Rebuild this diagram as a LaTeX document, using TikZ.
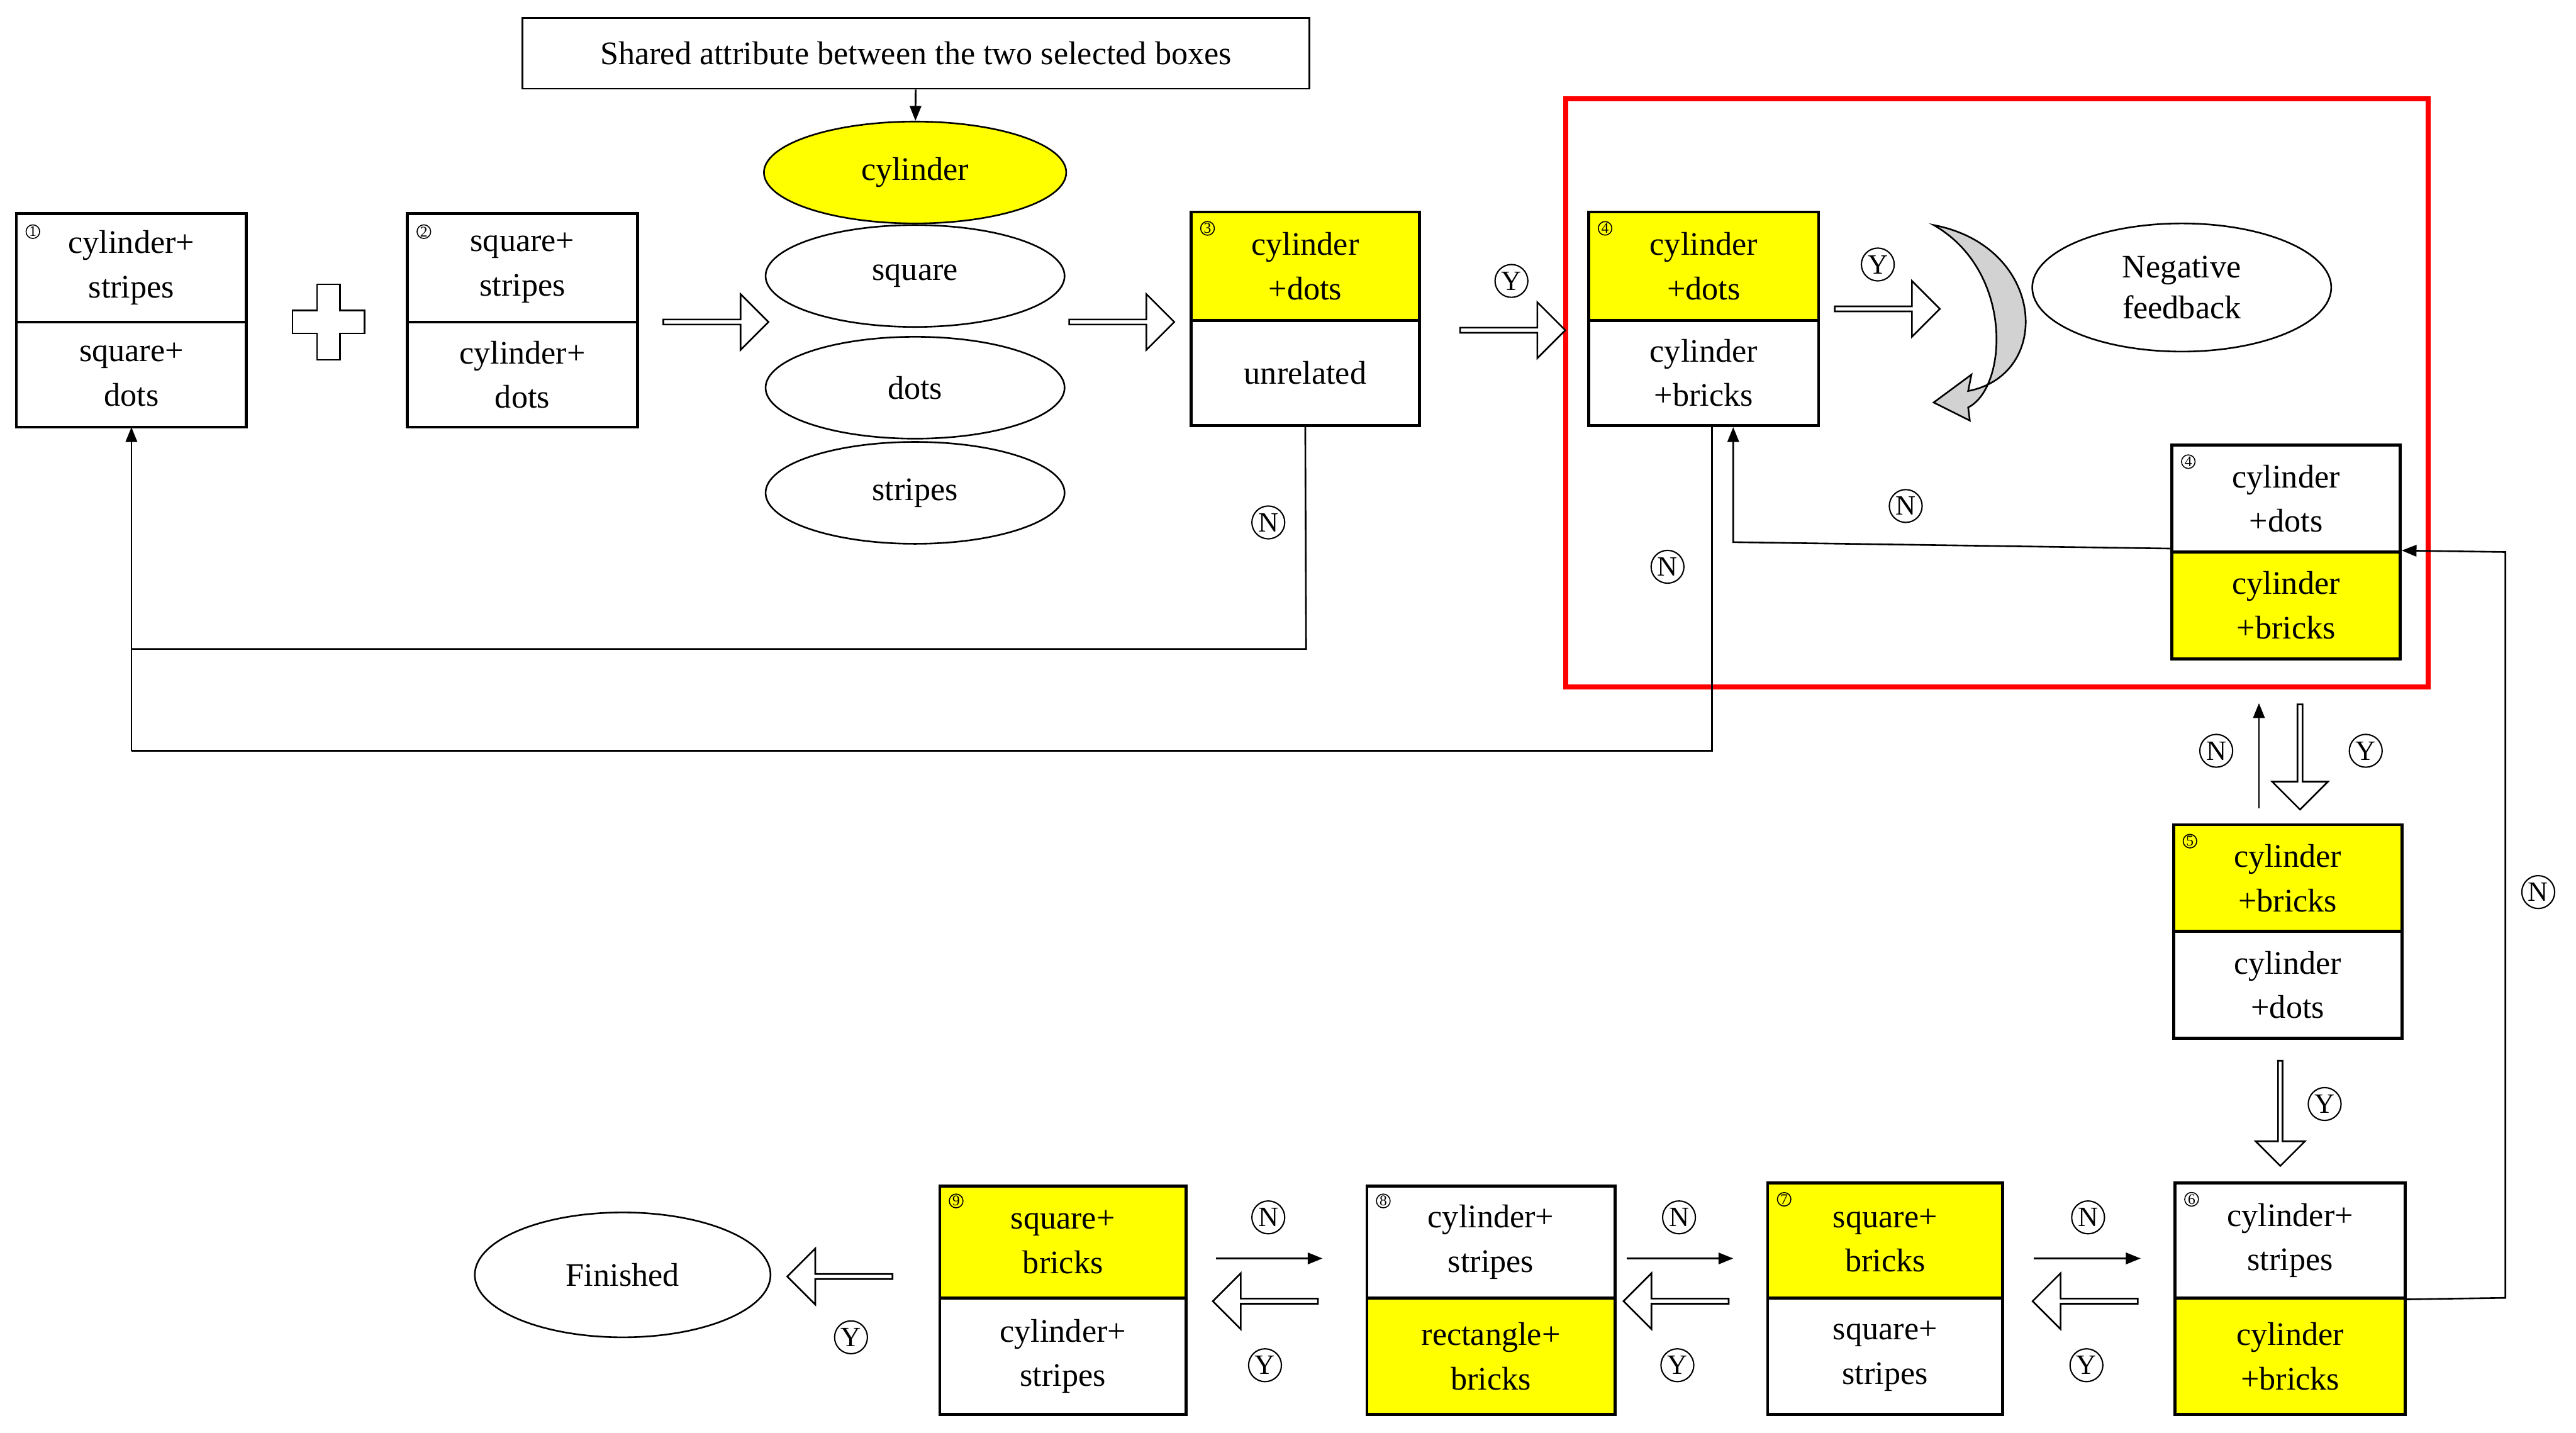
\documentclass[tikz,border=0pt]{standalone}
\usepackage{fontspec}
\setmainfont{Liberation Serif}
\usetikzlibrary{shapes.arrows,shapes.geometric,arrows.meta}
\definecolor{Yel}{RGB}{255,255,0}
\begin{document}
\begin{tikzpicture}[x=1pt,y=-1pt,
  cell/.style={draw,line width=1.8pt,align=center,inner sep=0pt,font=\fontsize{20}{27}\selectfont},
  ell/.style={draw,ellipse,line width=1pt,inner sep=0pt,font=\fontsize{20}{25}\selectfont,align=center},
  num/.style={circle,draw,line width=0.6pt,inner sep=0.3pt,font=\fontsize{9}{9}\selectfont},
  lab/.style={circle,draw,line width=0.8pt,inner sep=1.2pt,font=\fontsize{17}{17}\selectfont},
  barrow/.style={single arrow,draw,line width=1pt,fill=white,minimum width=34,single arrow head extend=5,inner sep=0pt},
  ln/.style={line width=1pt},
  tip/.style={-{Triangle[length=9pt,width=7pt]}}]
\useasboundingbox (0,0) rectangle (1568,872);
% boxes
\node[cell,minimum width=140,minimum height=66] (b1t) at (80,163) {cylinder+\\stripes};
\node[cell,minimum width=140,minimum height=64] (b1b) at (80,228) {square+\\dots};
\node[num] (n1) at (20,141) {1};
\node[cell,minimum width=140,minimum height=66] (b2t) at (318,163) {square+\\stripes};
\node[cell,minimum width=140,minimum height=64] (b2b) at (318,228) {cylinder+\\dots};
\node[num] (n2) at (258,141) {2};
\node[cell,fill=Yel,minimum width=139,minimum height=66] (b3t) at (794.5,162) {cylinder\\+dots};
\node[cell,minimum width=139,minimum height=64] (b3b) at (794.5,227) {unrelated};
\node[num] (n3) at (735,139) {3};
\node[cell,fill=Yel,minimum width=140,minimum height=66] (b4t) at (1037,162) {cylinder\\+dots};
\node[cell,minimum width=140,minimum height=64] (b4b) at (1037,227) {cylinder\\+bricks};
\node[num] (n4) at (977,139) {4};
\node[cell,minimum width=139,minimum height=65] (c4t) at (1391.5,303.5) {cylinder\\+dots};
\node[cell,fill=Yel,minimum width=139,minimum height=65] (c4b) at (1391.5,368.5) {cylinder\\+bricks};
\node[num] (m4) at (1332,281) {4};
\node[cell,fill=Yel,minimum width=139,minimum height=65] (b5t) at (1392.5,534.5) {cylinder\\+bricks};
\node[cell,minimum width=139,minimum height=65] (b5b) at (1392.5,599.5) {cylinder\\+dots};
\node[num] (n5) at (1333,512) {5};
\node[cell,minimum width=140,minimum height=70] (b6t) at (1394,755) {cylinder+\\stripes};
\node[cell,fill=Yel,minimum width=140,minimum height=71] (b6b) at (1394,825.5) {cylinder\\+bricks};
\node[num] (n6) at (1334,730) {6};
\node[cell,fill=Yel,minimum width=143,minimum height=70] (b7t) at (1147.5,755) {square+\\bricks};
\node[cell,minimum width=143,minimum height=71] (b7b) at (1147.5,825.5) {square+\\stripes};
\node[num] (n7) at (1086,730) {7};
\node[cell,minimum width=151,minimum height=68] (b8t) at (907.5,756) {cylinder+\\stripes};
\node[cell,fill=Yel,minimum width=151,minimum height=71] (b8b) at (907.5,825.5) {rectangle+\\bricks};
\node[num] (n8) at (842,731) {8};
\node[cell,fill=Yel,minimum width=150,minimum height=68] (b9t) at (647,756) {square+\\bricks};
\node[cell,minimum width=150,minimum height=71] (b9b) at (647,825.5) {cylinder+\\stripes};
\node[num] (n9) at (582,731) {9};
% ellipses
\node[draw,line width=1pt,minimum width=479,minimum height=43,font=\fontsize{20}{25}\selectfont] (top) at (557.5,32.5) {Shared attribute between the two selected boxes};
\node[ell,fill=Yel,minimum width=184,minimum height=62] (e1) at (557,105) {cylinder};
\node[ell,minimum width=182,minimum height=62] (e2) at (557,168) {square};
\node[ell,minimum width=182,minimum height=62] (e3) at (557,236) {dots};
\node[ell,minimum width=182,minimum height=62] (e4) at (557,300) {stripes};
\node[ell,minimum width=182,minimum height=78] (neg) at (1328,175) {Negative\\feedback};
\node[ell,minimum width=180,minimum height=76] (fin) at (379,776) {Finished};
\draw[ln,tip] (top) -- (e1);
% red box
\draw[red,line width=3pt] (953,60) rectangle (1478,418);
% plus
\draw[line width=1pt,fill=white] (193,173) -- (207,173) -- (207,189) -- (222,189) -- (222,203) -- (207,203) -- (207,219) -- (193,219) -- (193,203) -- (178,203) -- (178,189) -- (193,189) -- cycle;
% block arrows
\node[barrow,minimum height=64] (a1) at (435,196) {};
\node[barrow,minimum height=64] (a2) at (682,196) {};
\node[barrow,minimum height=64] (a3) at (920,201) {};
\node[barrow,minimum height=64] (a4) at (1148,188) {};
\node[barrow,minimum height=64,shape border rotate=270] (a5) at (1400,460) {};
\node[barrow,minimum height=64,shape border rotate=270,minimum width=30] (a6) at (1388,677) {};
\node[barrow,minimum height=64,shape border rotate=180] (a7) at (771,792) {};
\node[barrow,minimum height=64,shape border rotate=180] (a8) at (1021,792) {};
\node[barrow,minimum height=64,shape border rotate=180] (a9) at (1270,792) {};
\node[barrow,minimum height=64,shape border rotate=180] (a10) at (512,777) {};
% curved arrow
\draw[line width=1pt,fill=gray!35] (1177,137) .. controls (1245,150) and (1250,228) .. (1198,238) -- (1200,228) -- (1177,245) -- (1199,256) -- (1198,248) .. controls (1222,236) and (1226,165) .. (1177,137) -- cycle;
% connectors
\coordinate (p1) at (795,395); \coordinate (p2) at (80,395);
\coordinate (q1) at (1042,457); \coordinate (q2) at (80,457);
\draw[ln] (b3b.south) -- (p1) -- (p2);
\draw[ln,tip] (q2) -- (80,260);
\draw[ln] (1042,260) -- (q1) -- (q2);
\coordinate (r1) at (1055,330);
\draw[ln,tip] (c4t.south west) ++(0,-3) -- (r1) -- (1055,260);
\coordinate (s1) at (1525,790); \coordinate (s2) at (1525,336);
\draw[ln,tip] (b6t.south east) -- (s1) -- (s2) -- (c4b.north east);
\draw[ln,tip] (1375,492) -- (1375,428);
\draw[ln,tip] (740,766) -- (805,766);
\draw[ln,tip] (990,766) -- (1055,766);
\draw[ln,tip] (1238,766) -- (1303,766);
% labels
\node[lab] (l1) at (920,171) {Y};
\node[lab] (l2) at (772,318) {N};
\node[lab] (l3) at (1143,161) {Y};
\node[lab] (l4) at (1160,308) {N};
\node[lab] (l5) at (1015,345) {N};
\node[lab] (l6) at (1349,457) {N};
\node[lab] (l7) at (1440,457) {Y};
\node[lab] (l8) at (1545,543) {N};
\node[lab] (l9) at (1415,672) {Y};
\node[lab] (l10) at (772,741) {N};
\node[lab] (l11) at (770,831) {Y};
\node[lab] (l12) at (1022,741) {N};
\node[lab] (l13) at (1021,831) {Y};
\node[lab] (l14) at (1271,741) {N};
\node[lab] (l15) at (1270,831) {Y};
\node[lab] (l16) at (518,814) {Y};
\end{tikzpicture}
\end{document}
